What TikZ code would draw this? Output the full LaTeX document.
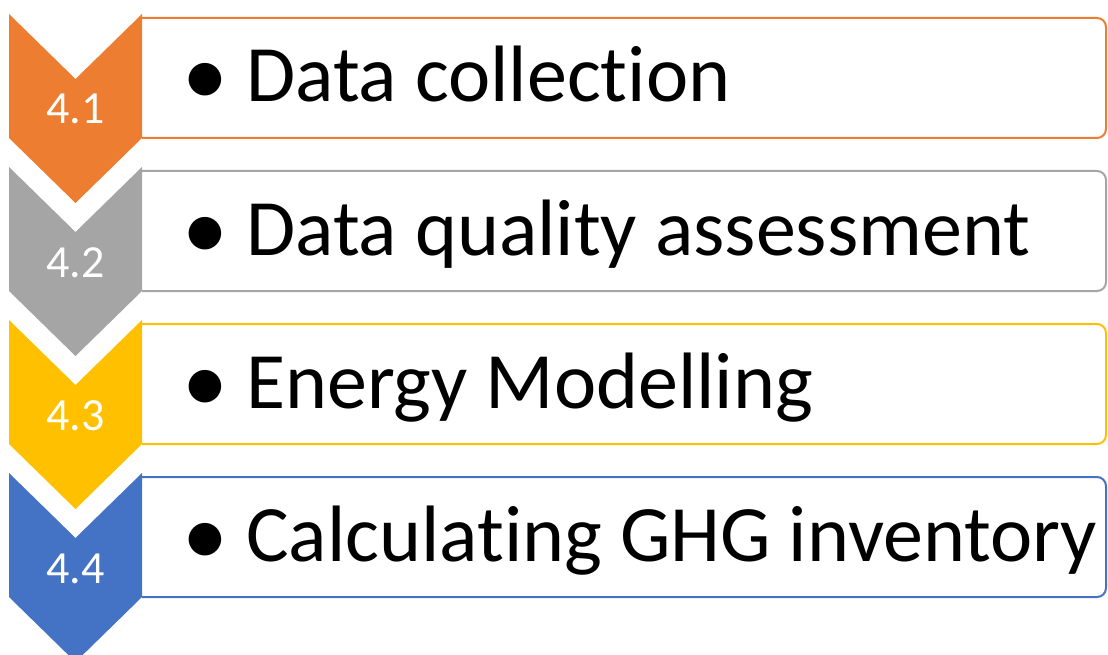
\documentclass[tikz,border=0pt]{standalone}
\usepackage{fontspec}
\setmainfont[Ligatures=NoCommon]{Carlito}
\usetikzlibrary{positioning}

\definecolor{stageorange}{HTML}{ED7D31}
\definecolor{stagegray}{HTML}{A5A5A5}
\definecolor{stagegold}{HTML}{FFC000}
\definecolor{stageblue}{HTML}{4472C4}

\newcommand{\stagebullet}{\makebox[56pt][l]{\hspace*{-8pt}\raisebox{-4pt}{\scalebox{1.15}{•}}}}

\tikzset{
    stagebox/.style={draw=#1, line width=2pt, rounded corners=9pt},
    stagenum/.style={text=white, font=\fontsize{46}{54}\selectfont, inner sep=0pt, anchor=base},
    stagetext/.style={text=black, font=\fontsize{80}{96}\selectfont, inner sep=0pt, anchor=base west}
}

\begin{document}
\begin{tikzpicture}[x=1pt, y=-1pt]
    \useasboundingbox (0,0) rectangle (1108,655);
    \clip (0,0) rectangle (1108,655);

    % 4.1
    \draw[stagebox=stageorange] (142,18) -- (1106,18) -- (1106,138) -- (142,138);
    \fill[stageorange] (9,14) -- (75.5,79) -- (142,14) -- (142,138) -- (75.5,203) -- (9,138) -- cycle;
    \node[stagenum] (num1) at (75.5,124) {4.1};
    \node[stagetext] (item1) at (190,102) {\stagebullet Data collection};

    % 4.2
    \draw[stagebox=stagegray] (142,171) -- (1106,171) -- (1106,291) -- (142,291);
    \fill[stagegray] (9,167) -- (75.5,232) -- (142,167) -- (142,291) -- (75.5,356) -- (9,291) -- cycle;
    \node[stagenum] (num2) at (75.5,277) {4.2};
    \node[stagetext] (item2) at (190,255) {\stagebullet Data quality assessment};

    % 4.3
    \draw[stagebox=stagegold] (142,324) -- (1106,324) -- (1106,444) -- (142,444);
    \fill[stagegold] (9,320) -- (75.5,385) -- (142,320) -- (142,444) -- (75.5,509) -- (9,444) -- cycle;
    \node[stagenum] (num3) at (75.5,430) {4.3};
    \node[stagetext] (item3) at (190,408) {\stagebullet Energy Modelling};

    % 4.4
    \draw[stagebox=stageblue] (142,477) -- (1106,477) -- (1106,597) -- (142,597);
    \fill[stageblue] (9,473) -- (75.5,538) -- (142,473) -- (142,597) -- (75.5,662) -- (9,597) -- cycle;
    \node[stagenum] (num4) at (75.5,583) {4.4};
    \node[stagetext] (item4) at (190,561) {\stagebullet Calculating GHG inventory};
\end{tikzpicture}
\end{document}
